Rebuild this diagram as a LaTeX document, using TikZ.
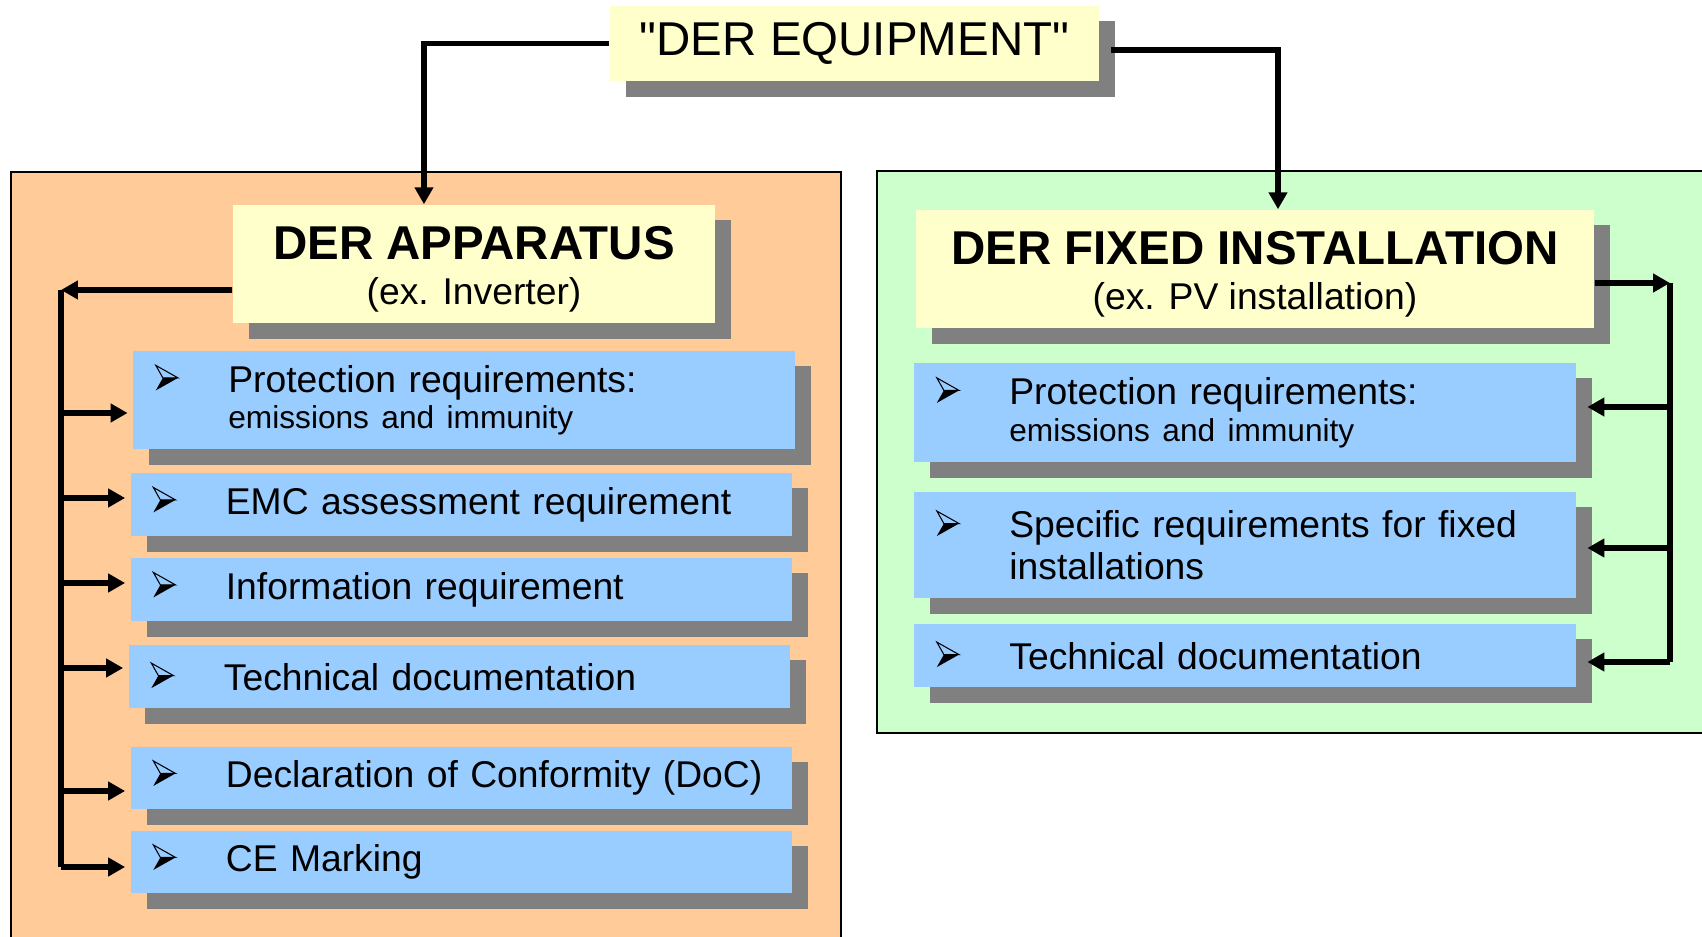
\documentclass[tikz,border=0pt]{standalone}
\usepackage{fontspec}
\setmainfont{Liberation Sans}
\newfontfamily\plainfont{Liberation Sans}
\usetikzlibrary{arrows.meta,shadows}

\definecolor{paleyellow}{HTML}{FFFFCC}
\definecolor{skyblue}{HTML}{99CCFF}
\definecolor{peach}{HTML}{FFCC99}
\definecolor{mint}{HTML}{CCFFCC}
\definecolor{shadowgrey}{HTML}{808080}

% arrowhead bullet, lit from the top
\newcommand{\bul}{\makebox[0.73cm][l]{\tikz[baseline=0pt]{%
  \draw[line width=0.3pt, line join=miter] (0,7.65pt) -- (6.3pt,4.1pt) -- (2pt,4.1pt) -- cycle;
  \fill (2pt,4.1pt) -- (6.3pt,4.1pt) -- (0,0.55pt) -- cycle;}}}
\newcommand{\ind}{\hspace*{0.73cm}}

\tikzset{
  box/.style={rectangle, inner sep=0pt,
    drop shadow={shadow xshift=0.16cm, shadow yshift=-0.155cm, fill=shadowgrey, opacity=1}},
  headbox/.style={box, fill=paleyellow, minimum height=1.18cm, align=center,
    font=\fontsize{13.5}{13}\selectfont},
  item/.style={box, fill=skyblue, minimum height=#1, text width=6.17cm, inner xsep=0.22cm,
    align=left, font=\fontsize{10.6}{10.3}\selectfont},
  link/.style={line width=1.7pt},
  arr/.style={link, -{Triangle[length=4.8pt,width=5.1pt]}},
}

\begin{document}
\begin{tikzpicture}[x=0.01cm, y=-0.01cm]
  \useasboundingbox (0,0) rectangle (1702,937);
  \clip (0,0) rectangle (1702,937);

  % the two panels
  \draw[fill=peach, line width=0.7pt] (11,172) rectangle (841,980);
  \draw[fill=mint, line width=0.7pt] (877,171) rectangle (1740,733);

  % headings
  \node[headbox, minimum width=4.89cm, minimum height=0.75cm] (equip) at (854.5,43.5)
    {\plainfont "DER EQUIPMENT"};
  \node[headbox, minimum width=4.82cm] (app) at (474,264)
    {\rule{0pt}{12.4pt}\textbf{DER APPARATUS}\\{\fontsize{10.6}{12}\selectfont (ex. Inverter)}};
  \node[headbox, minimum width=6.78cm] (fix) at (1255,269)
    {\rule{0pt}{12.4pt}\textbf{DER FIXED INSTALLATION}\\{\fontsize{10.6}{12}\selectfont (ex. PV installation)}};

  % apparatus items
  \node[item=0.98cm] (prot) at (464,400)
    {\bul Protection requirements:\\\ind{\fontsize{9}{10}\selectfont emissions and immunity}};
  \node[item=0.63cm] (emc) at (461.5,504.5) {\bul EMC assessment requirement};
  \node[item=0.63cm] (info) at (461.5,589.5) {\bul Information requirement};
  \node[item=0.63cm] (tech) at (459.5,676.5) {\bul Technical documentation};
  \node[item=0.62cm] (doc) at (461.5,778) {\bul Declaration of Conformity (DoC)};
  \node[item=0.62cm] (ce) at (461.5,862) {\bul CE Marking};

  % fixed installation items
  \node[item=0.99cm] (fprot) at (1245,412.5)
    {\bul Protection requirements:\\\ind{\fontsize{9}{10}\selectfont emissions and immunity}};
  \node[item=1.06cm] (spec) at (1245,545)
    {\bul Specific requirements for fixed\\[1.4pt]\ind installations};
  \node[item=0.63cm] (ftech) at (1245,655.5) {\bul Technical documentation};

  % from the top
  \draw[arr] (equip.west) -| ([xshift=-0.5cm]app.north);
  \draw[arr] ([xshift=0.11cm,yshift=-0.065cm]equip.east) -| ([xshift=0.23cm]fix.north);

  % left bus
  \coordinate (lbus) at (61,290);
  \draw[arr] ([yshift=-0.26cm]app.west) -- (lbus);
  \draw[link] (lbus) -- ([yshift=-0.05cm]ce.west -| lbus);
  \foreach \n/\d in {prot/-0.13, emc/0.065, info/0.065, tech/0.085, doc/-0.13, ce/-0.05}
    \draw[arr] ([yshift=\d cm]\n.west -| lbus) -- ([xshift=-0.05cm,yshift=\d cm]\n.west);

  % right bus
  \coordinate (rbus) at (1670,283);
  \draw[arr] ([yshift=-0.14cm]fix.east) -- (rbus);
  \draw[link] (rbus) -- ([yshift=-0.065cm]ftech.east -| rbus);
  \foreach \n/\d in {fprot/0.055, spec/-0.03, ftech/-0.065}
    \draw[arr] ([yshift=\d cm]\n.east -| rbus) -- ([xshift=0.11cm,yshift=\d cm]\n.east);
\end{tikzpicture}
\end{document}
